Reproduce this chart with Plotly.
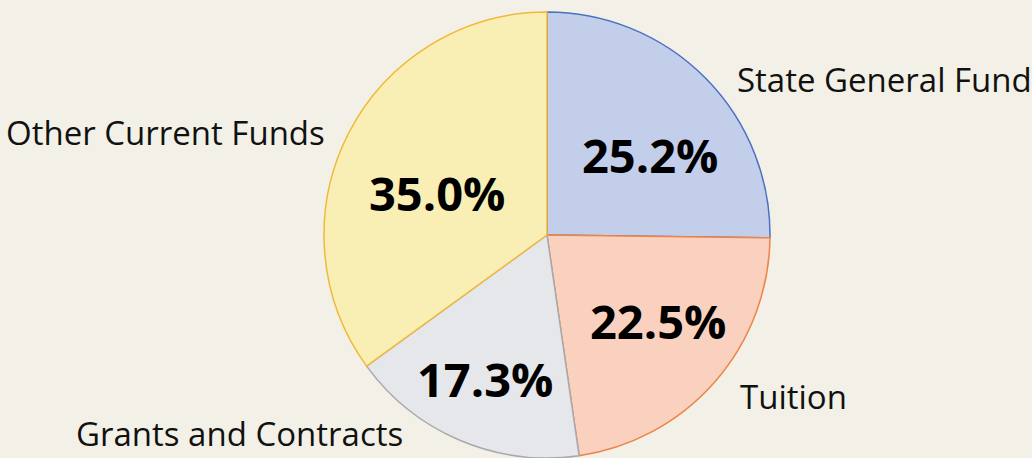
import plotly.graph_objects as go

categories = ["State General Fund", "Tuition", "Grants and Contracts", "Other Current Funds"]
values = [25.2, 22.5, 17.3, 35.0]
fill_colors = ["#C3CEEB", "#FAD1BE", "#E6E7EA", "#F9EEB4"]
edge_colors = ["#4A72C2", "#EE8445", "#A8A9AC", "#F1B93A"]

# label placement (pixel coords) for category names and percentage labels
name_pos = [(735, 80, "left"), (738, 396, "left"), (405, 433, "right"), (327, 132, "right")]
pct_pos = [(650, 155), (658, 321), (485, 379), (437, 193)]

W, H = 1032, 458

fig = go.Figure(go.Pie(
    labels=categories,
    values=values,
    sort=False,
    direction="clockwise",
    rotation=0,
    textinfo="none",
    hoverinfo="label+percent",
    marker=dict(colors=fill_colors, line=dict(color=edge_colors, width=1.5)),
    domain=dict(x=[(547 - 240) / W, (547 + 240) / W], y=[0, 1 - 12 / H]),
    showlegend=False,
))

annotations = []
for cat, (px, py, anchor) in zip(categories, name_pos):
    annotations.append(dict(
        x=px / W, y=1 - py / H, xref="paper", yref="paper",
        text=cat, showarrow=False, xanchor=anchor, yanchor="middle",
        font=dict(family="Open Sans", size=33, color="#111111"),
    ))
for v, (px, py) in zip(values, pct_pos):
    annotations.append(dict(
        x=px / W, y=1 - py / H, xref="paper", yref="paper",
        text=f"<b>{v:.1f}%</b>", showarrow=False, xanchor="center", yanchor="middle",
        font=dict(family="Open Sans", size=47, color="#000000"),
    ))

fig.update_layout(
    width=W, height=H,
    margin=dict(l=0, r=0, t=0, b=0),
    paper_bgcolor="#F3F1E7",
    plot_bgcolor="#F3F1E7",
    annotations=annotations,
)

fig.write_html(
    "out.html",
    config={"displayModeBar": False},
    post_script="document.body.style.margin='0';document.body.style.background='#F3F1E7';",
)
